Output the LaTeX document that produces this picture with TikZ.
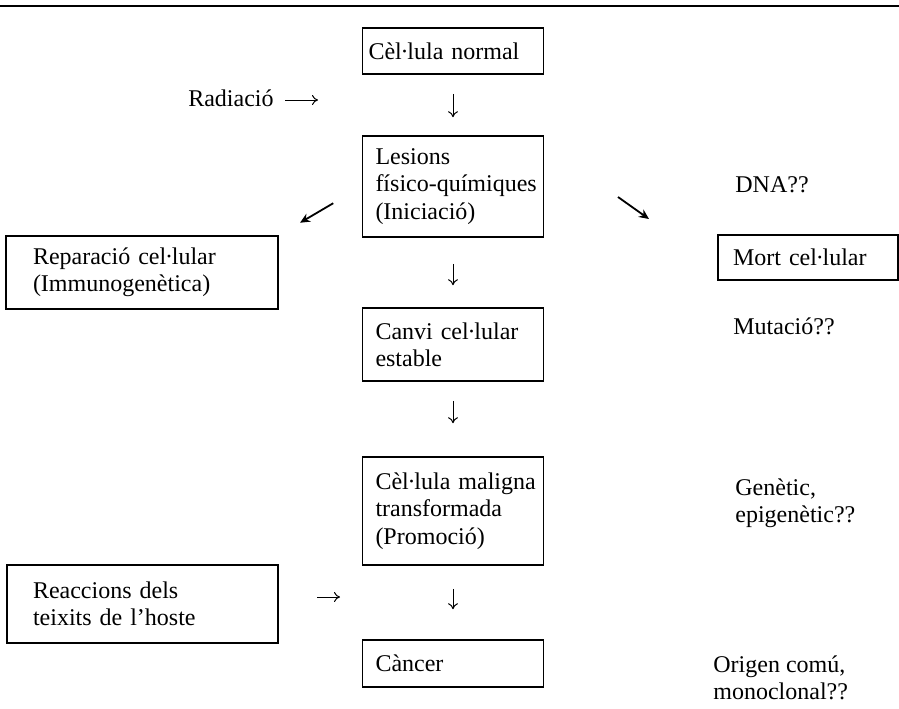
\documentclass[tikz,border=0pt]{standalone}
\usepackage{fontspec}
\setmainfont{Liberation Serif}
\usetikzlibrary{arrows.meta}

\newcommand{\lgem}{l\kern-.05em·\kern-.05em l}

\tikzset{
  caixa/.style={draw, line width=0.8pt, align=left, inner ysep=0pt},
  central/.style={caixa, text width=77.5pt, inner xsep=6.5pt},
  nota/.style={align=left, inner sep=0pt},
  fletxa/.style={line width=0.5pt, -{To[length=3pt,width=5pt]}},
  biaix/.style={line width=0.9pt, -{Stealth[length=5pt,width=4.5pt]}}
}

\begin{document}
\begin{tikzpicture}[x=0.5pt,y=-0.5pt,every node/.style={font=\fontsize{12}{13.6}\selectfont}]
\useasboundingbox (0,0) rectangle (899,708);
\draw[line width=1.2pt] (0,6) -- (899,6);

% columna central
\node[central, minimum height=23pt, text width=84.5pt, inner xsep=3pt] (nor) at (453,51) {Cè\lgem ula normal};
\node[central, minimum height=50.5pt] (les) at (453,186.5) {Lesions\\\mbox{físico-químiques}\\(Iniciació)};
\node[central, minimum height=36.5pt] (can) at (453,344.5) {\mbox{Canvi ce\lgem ular}\\estable};
\node[central, minimum height=54pt] (mal) at (453,511) {\mbox{Cè\lgem ula maligna}\\transformada\\(Promoció)};
\node[central, minimum height=23.5pt] (cnc) at (453,663.5) {Càncer};

% caixes laterals
\node[caixa, minimum height=36.5pt, text width=109pt, inner xsep=13.5pt] (rep) at (142,272.5) {Reparació ce\lgem ular\\(Immunogenètica)};
\node[caixa, minimum height=22.5pt, text width=75pt, inner xsep=7.5pt] (mor) at (808,257.5) {Mort ce\lgem ular};
\node[caixa, minimum height=39pt, text width=109.5pt, inner xsep=13pt] (rea) at (142.5,604) {Reaccions dels\\teixits de l’hoste};

% notes
\node[nota, anchor=base east] (rad) at (274,106) {Radiació};
\node[nota, anchor=base west] (dna) at (735,192) {DNA??};
\node[nota, anchor=base west] (mut) at (733,334) {Mutació??};
\node[nota, anchor=north west] (gen) at (735,478) {Genètic,\\epigenètic??};
\node[nota, anchor=north west] (ori) at (713,655) {Origen comú,\\monoclonal??};

\coordinate (ra1) at (285,100);
\coordinate (ra2) at (318,100);
\coordinate (re1) at (317,597);
\coordinate (re2) at (340,597);
\coordinate (dr1) at (618,197);
\coordinate (dr2) at (649,219);

% fletxes
\draw[fletxa, shorten <=9.5pt, shorten >=9pt] (nor.south) -- (les.north);
\draw[fletxa, shorten <=13pt, shorten >=11pt] (les.south) -- (can.north);
\draw[fletxa, shorten <=9.5pt, shorten >=16.5pt] (can.south) -- (mal.north);
\draw[fletxa, shorten <=11.5pt, shorten >=15pt] (mal.south) -- (cnc.north);
\draw[fletxa] (ra1) -- (ra2);
\draw[fletxa] (re1) -- (re2);
\draw[biaix, shorten <=16.5pt, shorten >=12.3pt] (les.west) -- (rep.north east);
\draw[biaix] (dr1) -- (dr2);
\end{tikzpicture}
\end{document}
